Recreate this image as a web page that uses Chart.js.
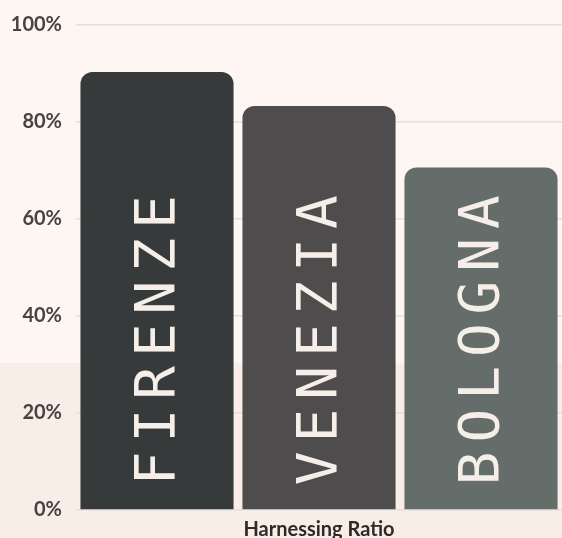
<!DOCTYPE html>
<html>
<head>
<meta charset="utf-8">
<script src="https://cdn.jsdelivr.net/npm/chart.js@4"></script>
<style>
  html, body { margin: 0; padding: 0; }
  body {
    width: 562px; height: 538px; overflow: hidden;
    background: linear-gradient(to bottom, #fdf6f3 0, #fdf6f3 363px, #f8ede7 363px, #f8ede7 100%);
  }
  #wrap { position: relative; width: 562px; height: 538px; }
</style>
</head>
<body>
<div id="wrap"><canvas id="chart"></canvas></div>
<script>
  var cities = ['FIRENZE', 'VENEZIA', 'BOLOGNA'];
  var ratios = [90.3, 83.3, 70.6];
  var barColors = ['#373a3b', '#4e4c4c', '#646d6a'];
  var yTicks = [0, 20, 40, 60, 80, 100];

  // 棒の中に縦書きで都市名を描く
  var cityLabels = {
    id: 'cityLabels',
    afterDatasetsDraw: function(chart) {
      var ctx = chart.ctx;
      var meta = chart.getDatasetMeta(0);
      ctx.save();
      ctx.fillStyle = '#f6eee8';
      ctx.font = '56px "DejaVu Sans Mono", monospace';
      ctx.letterSpacing = '9px';
      ctx.textAlign = 'left';
      ctx.textBaseline = 'middle';
      meta.data.forEach(function(bar, i) {
        ctx.save();
        ctx.translate(bar.x + 2, bar.base - 24);
        ctx.rotate(-Math.PI / 2);
        ctx.fillText(cities[i], 0, 0);
        ctx.restore();
      });
      ctx.restore();
    }
  };

  new Chart(document.getElementById('chart'), {
    type: 'bar',
    data: {
      labels: cities,
      datasets: [{
        data: ratios,
        backgroundColor: barColors,
        borderRadius: { topLeft: 12, topRight: 12 },
        borderSkipped: 'bottom',
        barPercentage: 0.945,
        categoryPercentage: 1
      }]
    },
    options: {
      responsive: true,
      maintainAspectRatio: false,
      animation: false,
      layout: { padding: { top: 25, right: -5, left: 9, bottom: 0 } },
      plugins: {
        legend: { display: false },
        tooltip: { enabled: false }
      },
      scales: {
        x: {
          afterFit: function(axis) { axis.height = 28; },
          grid: { display: false },
          border: { display: false },
          ticks: { display: false },
          title: {
            display: true,
            text: 'Harnessing Ratio',
            color: '#2f2a28',
            font: { family: 'Lato', size: 20, weight: 'bold' },
            padding: { top: 0, bottom: -4 }
          }
        },
        y: {
          min: 0,
          max: 100,
          afterFit: function(axis) {
            axis.width = 67;
            axis.paddingTop = 0;
            axis.paddingBottom = 0;
          },
          afterBuildTicks: function(axis) {
            axis.ticks = yTicks.map(function(v) { return { value: v }; });
          },
          grid: { color: '#e6dfdb', lineWidth: 1.5, drawTicks: false },
          border: { display: false },
          ticks: {
            padding: 14,
            color: '#4a4141',
            font: { family: 'Lato', size: 20, weight: 'bold' },
            callback: function(v) { return v + '%'; }
          }
        }
      }
    },
    plugins: [cityLabels]
  });
</script>
</body>
</html>
